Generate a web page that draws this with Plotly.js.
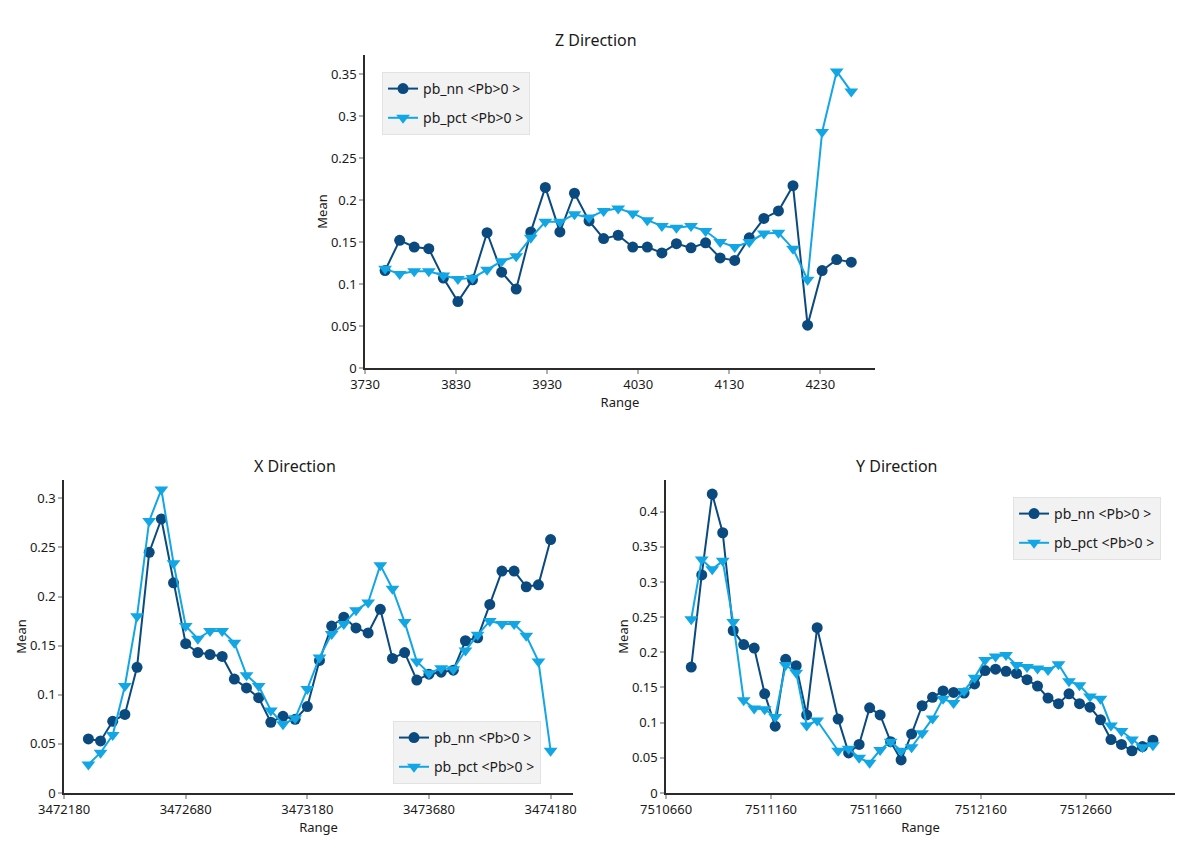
<!DOCTYPE html>
<html>
<head>
<meta charset="utf-8">
<script src="https://cdn.plot.ly/plotly-3.0.1.min.js"></script>
<style>
  html, body { margin: 0; padding: 0; background: #fff; }
  #plot { width: 1204px; height: 850px; }
</style>
</head>
<body>
<div id="plot"></div>
<script>
// Z direction
let zRange = [3752, 3768, 3784, 3800, 3816, 3832, 3848, 3864, 3880, 3896, 3912,
              3928, 3944, 3960, 3976, 3992, 4008, 4024, 4040, 4056, 4072, 4088,
              4104, 4120, 4136, 4152, 4168, 4184, 4200, 4216, 4232, 4248, 4264];
let zNN = [0.116, 0.152, 0.144, 0.142, 0.107, 0.079, 0.105, 0.161, 0.114, 0.094, 0.162,
           0.215, 0.162, 0.208, 0.175, 0.154, 0.158, 0.144, 0.144, 0.137, 0.148, 0.143,
           0.149, 0.131, 0.128, 0.155, 0.178, 0.187, 0.217, 0.051, 0.116, 0.129, 0.126];
let zPCT = [0.118, 0.112, 0.115, 0.115, 0.110, 0.106, 0.107, 0.117, 0.127, 0.133, 0.155,
            0.174, 0.174, 0.183, 0.179, 0.187, 0.190, 0.184, 0.176, 0.169, 0.167, 0.169,
            0.163, 0.150, 0.144, 0.150, 0.160, 0.161, 0.142, 0.105, 0.281, 0.353, 0.329];

// X direction
let xRange = [3472280, 3472330, 3472380, 3472430, 3472480, 3472530, 3472580, 3472630,
              3472680, 3472730, 3472780, 3472830, 3472880, 3472930, 3472980, 3473030,
              3473080, 3473130, 3473180, 3473230, 3473280, 3473330, 3473380, 3473430,
              3473480, 3473530, 3473580, 3473630, 3473680, 3473730, 3473780, 3473830,
              3473880, 3473930, 3473980, 3474030, 3474080, 3474130, 3474180];
let xNN = [0.055, 0.053, 0.073, 0.080, 0.128, 0.245, 0.279, 0.214, 0.152, 0.143, 0.141,
           0.139, 0.116, 0.107, 0.097, 0.072, 0.078, 0.075, 0.088, 0.135, 0.170, 0.179,
           0.168, 0.163, 0.187, 0.137, 0.143, 0.115, 0.121, 0.123, 0.125, 0.155, 0.158,
           0.192, 0.226, 0.226, 0.210, 0.212, 0.258];
let xPCT = [0.029, 0.041, 0.059, 0.109, 0.180, 0.277, 0.309, 0.234, 0.170, 0.157, 0.165,
            0.165, 0.153, 0.120, 0.109, 0.084, 0.070, 0.076, 0.106, 0.138, 0.162, 0.172,
            0.186, 0.194, 0.232, 0.208, 0.174, 0.134, 0.122, 0.127, 0.126, 0.145, 0.161,
            0.175, 0.172, 0.172, 0.160, 0.134, 0.043];

// Y direction (no value at 7511430)
let yRange = [7510780, 7510830, 7510880, 7510930, 7510980, 7511030, 7511080, 7511130,
              7511180, 7511230, 7511280, 7511330, 7511380, 7511480, 7511530, 7511580,
              7511630, 7511680, 7511730, 7511780, 7511830, 7511880, 7511930, 7511980,
              7512030, 7512080, 7512130, 7512180, 7512230, 7512280, 7512330, 7512380,
              7512430, 7512480, 7512530, 7512580, 7512630, 7512680, 7512730, 7512780,
              7512830, 7512880, 7512930, 7512980];
let yNN = [0.179, 0.310, 0.425, 0.370, 0.231, 0.211, 0.206, 0.141, 0.095, 0.190, 0.181,
           0.111, 0.235, 0.105, 0.057, 0.069, 0.121, 0.111, 0.073, 0.047, 0.084, 0.124,
           0.136, 0.145, 0.143, 0.142, 0.155, 0.174, 0.176, 0.173, 0.170, 0.161, 0.152,
           0.135, 0.127, 0.141, 0.127, 0.122, 0.104, 0.076, 0.069, 0.060, 0.066, 0.075];
let yPCT = [0.247, 0.332, 0.318, 0.330, 0.243, 0.132, 0.120, 0.119, 0.108, 0.182, 0.171,
            0.096, 0.103, 0.060, 0.063, 0.050, 0.043, 0.061, 0.073, 0.060, 0.065, 0.085,
            0.106, 0.134, 0.128, 0.145, 0.164, 0.189, 0.194, 0.196, 0.182, 0.179, 0.177,
            0.175, 0.183, 0.159, 0.153, 0.137, 0.134, 0.096, 0.088, 0.076, 0.065, 0.068];

let seriesNames = ['pb_nn <Pb>0 >', 'pb_pct <Pb>0 >'];
let darkBlue = '#0b4a7e';
let lightBlue = '#13a6e4';
let font = 'Noto Sans, Open Sans, sans-serif';

function nnTrace(x, y, xa, ya, leg) {
  return {
    x: x, y: y, xaxis: xa, yaxis: ya, legend: leg,
    name: seriesNames[0], legendgroup: 'nn',
    type: 'scatter', mode: 'lines+markers',
    line: {color: darkBlue, width: 2},
    marker: {symbol: 'circle', size: 11, color: darkBlue}
  };
}
function pctTrace(x, y, xa, ya, leg) {
  return {
    x: x, y: y, xaxis: xa, yaxis: ya, legend: leg,
    name: seriesNames[1], legendgroup: 'pct',
    type: 'scatter', mode: 'lines+markers',
    line: {color: lightBlue, width: 2},
    marker: {symbol: 'triangle-down', size: 12, color: lightBlue}
  };
}

let data = [
  nnTrace(zRange, zNN, 'x', 'y', 'legend'),
  pctTrace(zRange, zPCT, 'x', 'y', 'legend'),
  nnTrace(xRange, xNN, 'x2', 'y2', 'legend2'),
  pctTrace(xRange, xPCT, 'x2', 'y2', 'legend2'),
  nnTrace(yRange, yNN, 'x3', 'y3', 'legend3'),
  pctTrace(yRange, yPCT, 'x3', 'y3', 'legend3')
];

function xAxis(domain, range, tick0, dtick, anchor) {
  return {
    domain: domain, range: range, anchor: anchor,
    tick0: tick0, dtick: dtick, tickformat: 'd',
    showgrid: false, zeroline: false,
    showline: true, linecolor: '#2b2b2b', linewidth: 1.5,
    ticks: 'outside', ticklen: 4, tickcolor: '#b0b0b0', tickwidth: 1.5,
    tickfont: {size: 13, color: '#1a1a1a'},
    title: {text: 'Range', font: {size: 13, color: '#1a1a1a'}, standoff: 2}
  };
}
function yAxis(domain, range, anchor) {
  return {
    domain: domain, range: range, anchor: anchor,
    tick0: 0, dtick: 0.05,
    showgrid: false, zeroline: false,
    showline: true, linecolor: '#2b2b2b', linewidth: 1.5,
    ticks: 'outside', ticklen: 4, tickcolor: '#b0b0b0', tickwidth: 1.5,
    tickfont: {size: 13, color: '#1a1a1a'},
    title: {text: 'Mean', font: {size: 13, color: '#1a1a1a'}, standoff: 0}
  };
}
function legendBox(x, y) {
  return {
    x: x, y: y, xanchor: 'left', yanchor: 'top',
    bgcolor: '#f2f2f2', bordercolor: '#e2e2e2', borderwidth: 1,
    font: {size: 14, color: '#1a1a1a'},
    traceorder: 'grouped', tracegroupgap: 8
  };
}

let layout = {
  width: 1204,
  height: 850,
  margin: {l: 0, r: 0, t: 0, b: 0},
  paper_bgcolor: '#fff',
  plot_bgcolor: '#fff',
  font: {family: font, color: '#1a1a1a'},
  showlegend: true,
  xaxis: xAxis([0.3032, 0.7267], [3730, 4290], 3730, 100, 'y'),
  yaxis: yAxis([0.5671, 0.9353], [0, 0.3726], 'x'),
  xaxis2: xAxis([0.0532, 0.4759], [3472180, 3474272], 3472180, 500, 'y2'),
  yaxis2: yAxis([0.0671, 0.4353], [0, 0.3187], 'x2'),
  xaxis3: xAxis([0.5532, 0.9759], [7510660, 7513085], 7510660, 500, 'y3'),
  yaxis3: yAxis([0.0671, 0.4353], [0, 0.445], 'x3'),
  legend: legendBox(0.3173, 0.9153),
  legend2: legendBox(0.3264, 0.1518),
  legend3: legendBox(0.8414, 0.4153),
  annotations: [
    {text: 'Z Direction', x: 596 / 1204, y: 1 - 40 / 850},
    {text: 'X Direction', x: 295 / 1204, y: 1 - 466 / 850},
    {text: 'Y Direction', x: 897 / 1204, y: 1 - 466 / 850}
  ].map(a => Object.assign(a, {
    xref: 'paper', yref: 'paper', xanchor: 'center', yanchor: 'middle',
    showarrow: false, font: {size: 16, color: '#1a1a1a'}
  }))
};

Plotly.newPlot('plot', data, layout, {displayModeBar: false});
</script>
</body>
</html>
